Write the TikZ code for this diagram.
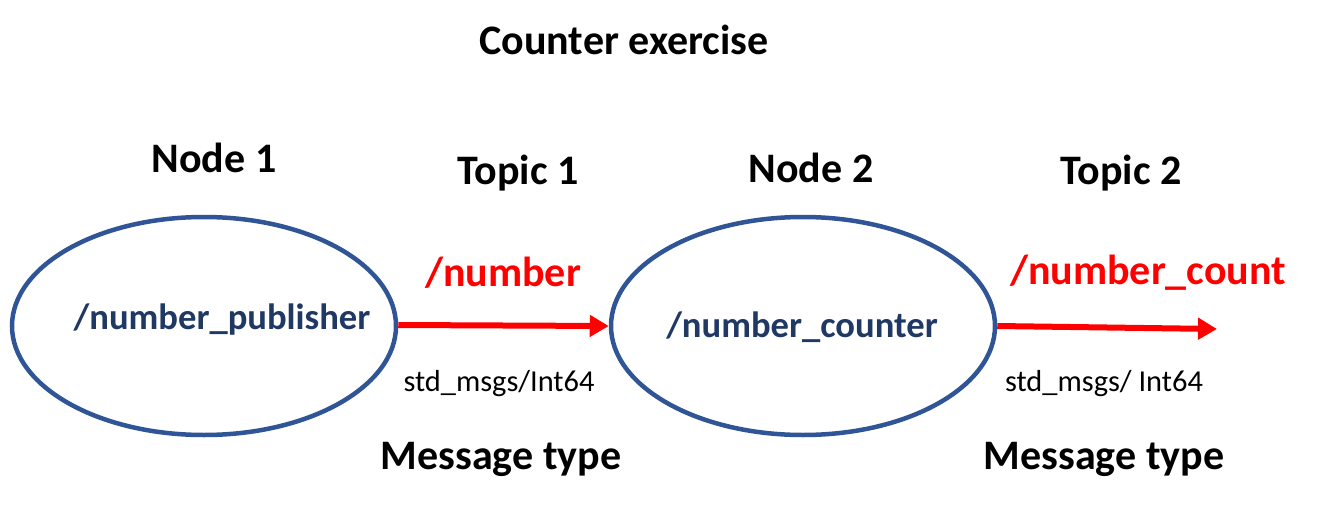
\documentclass[tikz,border=0pt]{standalone}
\usepackage{fontspec}
\setmainfont{Carlito}
\usetikzlibrary{arrows.meta}
\usetikzlibrary{shapes.geometric}
\definecolor{ellblue}{HTML}{2F5597}
\definecolor{txtblue}{HTML}{1F3864}
\definecolor{arrred}{HTML}{FF0000}
\tikzset{
  x=1pt, y=-1pt,
  rosnode/.style={draw=ellblue, line width=4.5pt, ellipse, minimum width=384pt, minimum height=218pt, inner sep=0pt},
  lbl/.style={font=\bfseries\fontsize{42}{44}\selectfont, text=black, inner sep=0pt, anchor=center},
  title/.style={font=\bfseries\fontsize{42}{44}\selectfont, text=black, inner sep=0pt},
  topic/.style={font=\bfseries\fontsize{42}{44}\selectfont, text=arrred, inner sep=0pt},
  nname/.style={font=\bfseries\fontsize{36.6}{38}\selectfont, text=txtblue, inner sep=0pt},
  msg/.style={font=\fontsize{30.4}{32}\selectfont, text=black, inner sep=0pt},
  conn/.style={draw=arrred, line width=6pt, -{Triangle[length=19pt,width=21pt]}},
}
\begin{document}
\begin{tikzpicture}
\useasboundingbox (0,0) rectangle (1319,524);
\node[title] (title) at (624,40) {Counter exercise};
\node[lbl] (n1lbl) at (214,158) {Node 1};
\node[lbl] (t1lbl) at (518,173) {Topic 1};
\node[lbl] (n2lbl) at (811,168) {Node 2};
\node[lbl] (t2lbl) at (1121,173) {Topic 2};
\node[rosnode] (n1) at (204,326) {};
\node[rosnode] (n2) at (803,326) {};
\node[nname] (pub) at (222,320) {/number\_publisher};
\node[nname] (cnt) at (802,327) {/number\_counter};
\node[topic] (tp1) at (503,273) {/number};
\node[topic] (tp2) at (1148,273) {/number\_count};
\node[msg] (m1) at (499,384) {std\_msgs/Int64};
\node[msg] (m2) at (1104,384) {std\_msgs/ Int64};
\node[lbl] (mt1) at (501,459) {Message type};
\node[lbl] (mt2) at (1104,459) {Message type};
\coordinate (end2) at (1217,329);
\draw[conn] (n1.east) ++(0,-1) coordinate (s1) (s1) -- (n2.west);
\draw[conn] (n2.east) -- (end2);
\end{tikzpicture}
\end{document}
